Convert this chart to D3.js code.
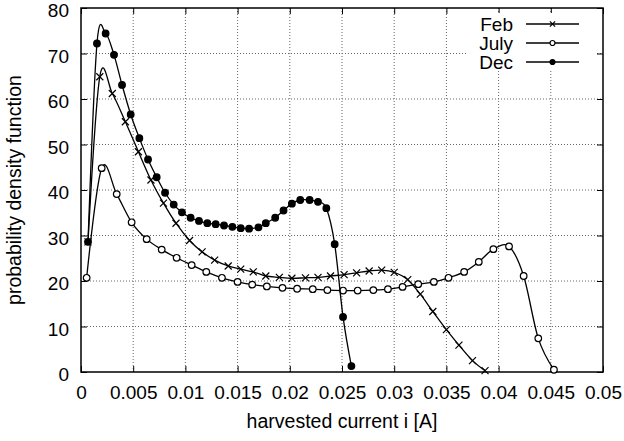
<!DOCTYPE html>
<html>
<head>
<meta charset="utf-8">
<script src="https://cdn.jsdelivr.net/npm/d3@7"></script>
<style>
  body { margin: 0; background: #fff; }
  text { font-family: "Liberation Sans", Arial, sans-serif; }
</style>
</head>
<body>
<div id="chart"></div>
<script>
// tick values
const xTicks = [0, 0.005, 0.01, 0.015, 0.02, 0.025, 0.03, 0.035, 0.04, 0.045, 0.05];
const yTicks = [0, 10, 20, 30, 40, 50, 60, 70, 80];

// series
const febX = [0.00067, 0.0018, 0.0030, 0.00425, 0.0055, 0.0067, 0.0079, 0.0091, 0.0104, 0.0116, 0.0128, 0.0141, 0.0153, 0.0165, 0.0177, 0.0190, 0.0202, 0.0215, 0.0227, 0.0239, 0.0252, 0.0264, 0.0276, 0.0288, 0.0300, 0.0313, 0.0325, 0.0337, 0.0350, 0.0362, 0.0375, 0.0387];
const febY = [28.6, 64.9, 61.2, 55.0, 48.4, 42.2, 37.1, 32.7, 28.9, 26.4, 24.6, 23.3, 22.6, 22.0, 21.1, 20.8, 20.6, 20.7, 20.8, 21.1, 21.4, 21.8, 22.2, 22.4, 21.9, 20.3, 17.1, 13.3, 9.3, 5.9, 2.5, 0.3];

const julyX = [0.00054, 0.00198, 0.00342, 0.00485, 0.00629, 0.00773, 0.00916, 0.0106, 0.0120, 0.0135, 0.0150, 0.0164, 0.0178, 0.0193, 0.0207, 0.0222, 0.0236, 0.0251, 0.0265, 0.0280, 0.0294, 0.0308, 0.0323, 0.0338, 0.0352, 0.0367, 0.0381, 0.0395, 0.0410, 0.0424, 0.0438, 0.0453];
const julyY = [20.7, 44.8, 39.1, 32.9, 29.2, 26.9, 25.1, 23.5, 22.0, 20.7, 19.8, 19.2, 18.8, 18.5, 18.3, 18.2, 18.0, 17.9, 17.9, 18.0, 18.2, 18.7, 19.3, 19.8, 20.7, 22.0, 24.2, 27.0, 27.6, 21.1, 7.4, 0.5];

const decX = [0.00067, 0.00153, 0.00236, 0.00316, 0.00393, 0.00476, 0.00559, 0.00642, 0.00725, 0.00805, 0.00888, 0.00967, 0.0105, 0.0113, 0.0121, 0.0129, 0.0137, 0.0145, 0.0153, 0.0161, 0.0170, 0.0177, 0.0186, 0.0194, 0.0202, 0.0210, 0.0219, 0.0227, 0.0235, 0.0243, 0.0251, 0.0259];
const decY = [28.6, 72.2, 74.4, 69.7, 63.1, 56.6, 51.4, 46.7, 42.8, 39.4, 36.8, 35.1, 33.9, 33.2, 32.7, 32.5, 32.2, 31.9, 31.6, 31.5, 31.8, 32.7, 33.9, 35.5, 37.0, 37.8, 37.8, 37.4, 36.0, 28.1, 12.1, 1.3];

const seriesNames = ["Feb", "July", "Dec"];
const seriesMarks = ["cross", "open", "filled"];

const width = 624, height = 441;
const margin = { top: 8, right: 21, bottom: 69, left: 81 };
const innerW = width - margin.left - margin.right;
const innerH = height - margin.top - margin.bottom;

const svg = d3.select("#chart").append("svg")
    .attr("width", width)
    .attr("height", height);

const g = svg.append("g")
    .attr("transform", `translate(${margin.left},${margin.top})`);

const x = d3.scaleLinear().domain([0, 0.05]).range([0, innerW]);
const y = d3.scaleLinear().domain([0, 80]).range([innerH, 0]);

// grid
g.append("g").selectAll("line").data(xTicks.slice(1, -1)).join("line")
    .attr("x1", d => x(d)).attr("x2", d => x(d))
    .attr("y1", 0).attr("y2", innerH)
    .attr("stroke", "#666").attr("stroke-dasharray", "1,2");
g.append("g").selectAll("line").data(yTicks.slice(1, -1)).join("line")
    .attr("y1", d => y(d)).attr("y2", d => y(d))
    .attr("x1", 0).attr("x2", innerW)
    .attr("stroke", "#666").attr("stroke-dasharray", "1,2");

// axes (inward ticks, mirrored)
const tickLen = 6;
const fmtX = d => d === 0 ? "0" : String(+d.toFixed(3));
const styleAxis = sel => {
    sel.select(".domain").remove();
    sel.selectAll("line").attr("stroke", "#000");
    sel.selectAll("text").attr("font-size", 19).attr("fill", "#000")
        .attr("font-family", "'Liberation Sans', Arial, sans-serif");
};

g.append("g").attr("transform", `translate(0,${innerH})`)
    .call(d3.axisBottom(x).tickValues(xTicks).tickFormat(fmtX).tickSizeInner(-tickLen).tickPadding(14))
    .call(styleAxis);
g.append("g")
    .call(d3.axisTop(x).tickValues(xTicks).tickFormat("").tickSizeInner(-tickLen))
    .call(styleAxis);
g.append("g")
    .call(d3.axisLeft(y).tickValues(yTicks).tickSizeInner(-tickLen).tickPadding(12))
    .call(styleAxis)
    .selectAll("text").attr("dy", "0.45em");
g.append("g").attr("transform", `translate(${innerW},0)`)
    .call(d3.axisRight(y).tickValues(yTicks).tickFormat("").tickSizeInner(-tickLen))
    .call(styleAxis);

g.append("rect")
    .attr("width", innerW).attr("height", innerH)
    .attr("fill", "none").attr("stroke", "#000").attr("stroke-width", 1.5);

// legend box (clears grid behind key)
const legend = g.append("g");
legend.append("rect")
    .attr("x", 387).attr("y", 5).attr("width", 128).attr("height", 58)
    .attr("fill", "#fff");

// series
const line = d3.line().x(d => x(d[0])).y(d => y(d[1])).curve(d3.curveCardinal.tension(0));
const allSeries = [d3.zip(febX, febY), d3.zip(julyX, julyY), d3.zip(decX, decY)];

function drawMark(sel, kind, r) {
    if (kind === "cross") {
        sel.append("path")
            .attr("d", `M${-r},${-r}L${r},${r}M${-r},${r}L${r},${-r}`)
            .attr("stroke", "#000").attr("stroke-width", 1.2).attr("fill", "none");
    } else {
        sel.append("circle").attr("r", r)
            .attr("fill", kind === "filled" ? "#000" : "#fff")
            .attr("stroke", "#000").attr("stroke-width", 1.2);
    }
}

allSeries.forEach((data, i) => {
    const sg = g.append("g");
    sg.append("path").datum(data)
        .attr("d", line)
        .attr("fill", "none").attr("stroke", "#000").attr("stroke-width", 1.3);
    sg.selectAll("g.pt").data(data).join("g")
        .attr("class", "pt")
        .attr("transform", d => `translate(${x(d[0])},${y(d[1])})`)
        .each(function () { drawMark(d3.select(this), seriesMarks[i], i === 0 ? 3.5 : 3.3); });
});

// legend entries
seriesNames.forEach((name, i) => {
    const ly = 16 + i * 19;
    legend.append("text")
        .attr("x", 432).attr("y", ly).attr("dy", "0.36em")
        .attr("text-anchor", "end").attr("font-size", 19)
        .text(name);
    legend.append("line")
        .attr("x1", 445).attr("x2", 498).attr("y1", ly).attr("y2", ly)
        .attr("stroke", "#000").attr("stroke-width", 1.3);
    const m = legend.append("g").attr("transform", `translate(471.5,${ly})`);
    drawMark(m, seriesMarks[i], i === 0 ? 2.6 : 2.5);
});

// axis titles
svg.append("text")
    .attr("x", margin.left + innerW / 2).attr("y", 428)
    .attr("text-anchor", "middle").attr("font-size", 19.5)
    .text("harvested current i [A]");
svg.append("text")
    .attr("transform", `translate(21,${margin.top + innerH / 2}) rotate(-90)`)
    .attr("text-anchor", "middle").attr("font-size", 19.5)
    .text("probability density function");
</script>
</body>
</html>
